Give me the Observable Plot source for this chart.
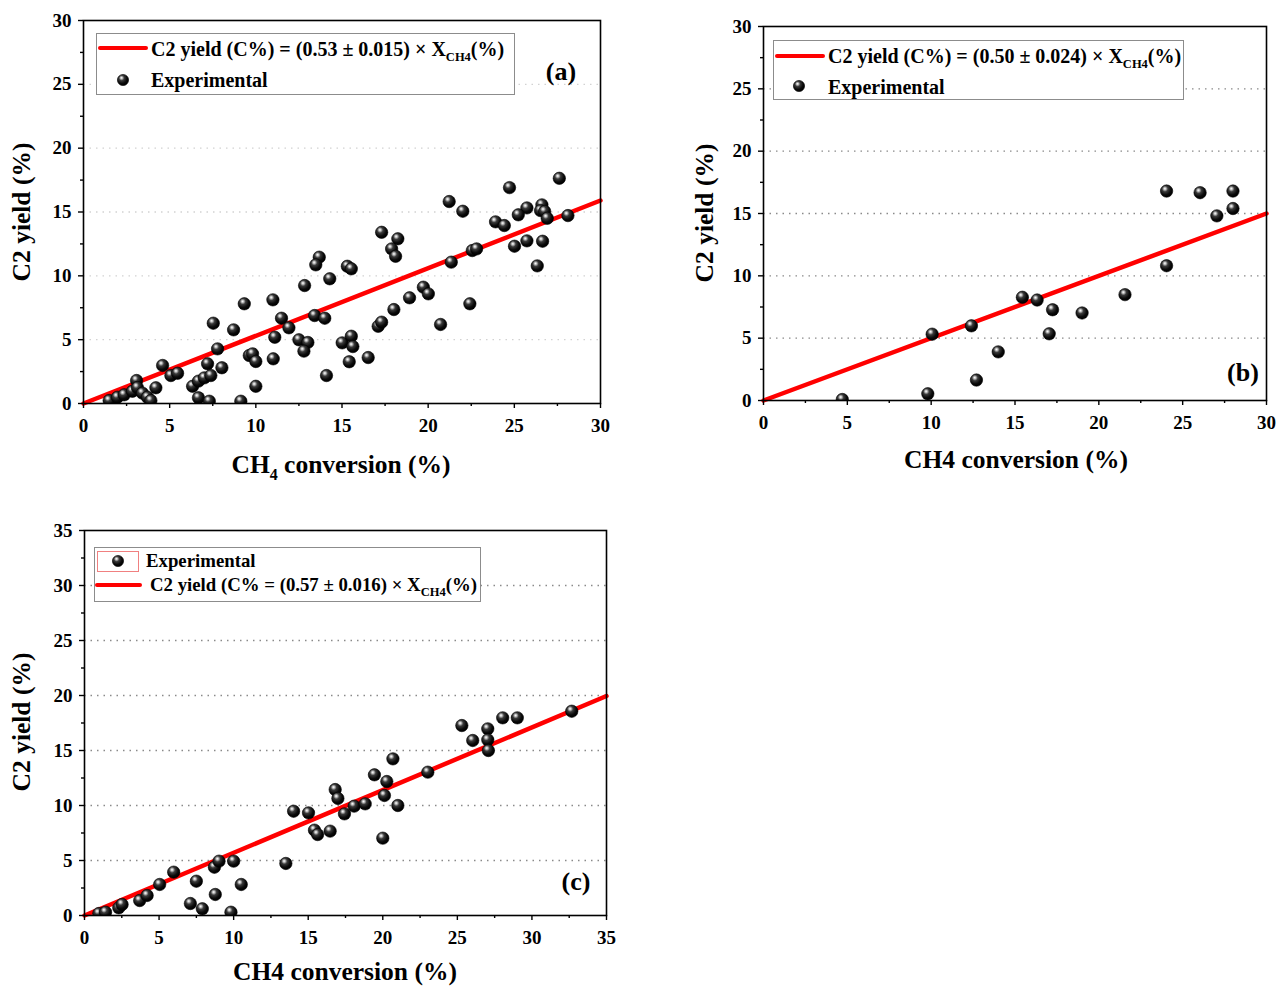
<!DOCTYPE html>
<html>
<head>
<meta charset="utf-8">
<script src="https://cdn.jsdelivr.net/npm/d3@7"></script>
<script src="https://cdn.jsdelivr.net/npm/@observablehq/plot@0.6"></script>
<style>
  body { margin: 0; background: #fff; }
  #root { position: relative; width: 1282px; height: 988px; overflow: hidden;
          font-family: "Liberation Serif", "Times New Roman", serif; font-weight: bold; color: #000; }
  .panel { position: absolute; }
  .legend { position: absolute; background: #fff; border: 1px solid #8c8c8c; box-sizing: border-box; }
  .txt { position: absolute; font-size: 20px; line-height: 24px; height: 24px; white-space: nowrap; }
  .txt.small { font-size: 18.8px; }
  .txt sub { font-size: 12.5px; vertical-align: -5px; line-height: 0; }
  .atitle { position: absolute; font-size: 25.5px; line-height: 28px; white-space: nowrap; transform: translate(-50%, -50%); }
  .atitle sub { font-size: 16px; vertical-align: -7px; line-height: 0; }
  .ytitle { transform: translate(-50%, -50%) rotate(-90deg); }
  .tag { position: absolute; font-size: 26px; transform: translate(-50%, -50%); white-space: nowrap; }
  .swatch { position: absolute; height: 4px; background: #ff0000; border-radius: 2px; }
  .ballkey { position: absolute; }
  .boxkey { position: absolute; border: 1px solid #f08080; box-sizing: border-box; background: #fff; }
</style>
</head>
<body>
<div id="root"></div>
<script>
// Panel (a): C2 yield vs CH4 conversion, slope 0.53
const aConversion = [1.49,1.97,2.36,2.84,3.08,3.13,3.42,3.71,3.91,4.20,4.59,5.07,5.46,6.33,6.67,7.01,7.39,6.67,7.30,7.20,
  7.78,8.03,7.53,8.71,9.33,9.13,9.62,9.81,10.0,10.0,13.68,13.48,14.29,12.83,10.99,11.49,11.92,13.41,14.0,11.10,
  12.50,13.02,12.79,11.01,14.10,27.61,24.72,21.22,22.01,26.60,25.73,25.23,26.52,26.76,26.91,28.11,23.91,24.42,25.01,25.73,
  26.64,26.33,22.56,22.81,17.30,18.24,17.88,18.11,15.31,15.54,21.34,19.72,20.01,18.92,18.01,22.42,17.10,17.30,20.72,15.01,
  15.54,15.63,15.42,16.52];
const aYield = [0.23,0.49,0.68,0.96,1.80,1.25,0.81,0.49,0.23,1.23,2.98,2.19,2.37,1.35,1.75,2.01,2.19,0.45,0.18,3.11,
  4.28,2.80,6.29,5.77,7.81,0.18,3.76,3.89,3.29,1.35,11.46,10.86,9.77,9.24,8.12,6.68,5.93,6.89,6.68,5.19,
  4.99,4.78,4.10,3.50,2.19,17.64,16.91,15.82,15.06,15.56,15.32,14.78,15.11,15.04,14.51,14.72,14.23,13.94,12.32,12.74,
  12.71,10.78,11.98,12.11,13.41,12.90,12.11,11.53,10.75,10.55,11.07,9.11,8.59,8.28,7.36,7.81,6.05,6.37,6.19,4.75,
  5.27,4.46,3.27,3.60];

// Panel (b): slope 0.50
const bConversion = [4.70,9.80,10.06,12.40,12.70,14.0,15.44,16.32,17.24,17.04,19.0,21.56,24.04,24.04,26.04,27.04,28.0,28.0];
const bYield = [0.08,0.54,5.32,5.99,1.64,3.90,8.28,8.06,7.28,5.35,7.02,8.49,10.81,16.80,16.67,14.81,16.80,15.40];

// Panel (c): slope 0.57
const cConversion = [0.96,1.41,2.30,2.52,3.70,4.20,5.04,5.98,7.10,7.50,7.90,8.77,8.71,9.02,10.0,9.82,10.51,13.50,14.02,15.02,
  15.42,15.63,16.47,16.81,16.99,17.43,18.08,18.82,20.0,20.11,20.27,19.44,21.01,20.68,23.02,25.30,26.03,27.04,27.04,27.08,
  28.04,29.02,32.67];
const cYield = [0.18,0.30,0.70,1.00,1.36,1.82,2.82,3.94,1.09,3.12,0.61,1.91,4.39,4.94,4.94,0.30,2.82,4.73,9.48,9.33,
  7.76,7.36,7.67,11.45,10.64,9.24,9.94,10.15,7.03,10.91,12.18,12.79,10.0,14.24,13.03,17.27,15.91,16.97,15.97,15.0,
  17.97,17.97,18.57];

// Fitted slopes (C2 yield = k × X_CH4) and their uncertainties
const fitSlopes = [0.53, 0.50, 0.57];
const fitErrors = ["0.015", "0.024", "0.016"];
const panelTags = ["(a)", "(b)", "(c)"];
const axisMax = [[30, 30], [30, 30], [35, 35]];

const root = document.getElementById("root");

// Shared sphere shading for the experimental points
root.insertAdjacentHTML("beforeend", `
<svg width="0" height="0" style="position:absolute">
  <defs>
    <radialGradient id="ball" cx="0.4" cy="0.35" r="0.62" fx="0.36" fy="0.3">
      <stop offset="0" stop-color="#ffffff"/>
      <stop offset="0.14" stop-color="#c8c8c8"/>
      <stop offset="0.38" stop-color="#3a3a3a"/>
      <stop offset="0.75" stop-color="#0a0a0a"/>
      <stop offset="1" stop-color="#000"/>
    </radialGradient>
  </defs>
</svg>`);

function panel({xs, ys, slope, xmax, ymax, gridColor, left, top, width, height, margin}) {
  const pts = xs.map((x, i) => ({x, y: ys[i]}));
  const fit = [0, xmax].map(x => ({x, y: slope * x}));
  const xMajor = d3.range(0, xmax + 0.01, 5);
  const yMajor = d3.range(0, ymax + 0.01, 5);
  const xMinor = d3.range(2.5, xmax, 5);
  const yMinor = d3.range(2.5, ymax, 5);
  const grid = yMajor.filter(v => v > 0 && v < ymax);
  const chart = Plot.plot({
    width, height,
    marginLeft: margin[3], marginRight: margin[1], marginTop: margin[0], marginBottom: margin[2],
    x: {domain: [0, xmax]},
    y: {domain: [0, ymax]},
    style: {fontFamily: '"Liberation Serif", "Times New Roman", serif', fontWeight: "bold", fontSize: "19px", color: "#000", background: "transparent", overflow: "visible"},
    marks: [
      Plot.ruleY(grid, {stroke: gridColor, strokeWidth: 1.3, strokeDasharray: "1.5,5"}),
      Plot.line(fit, {x: "x", y: "y", stroke: "#ff0000", strokeWidth: 4.5}),
      Plot.dot(pts, {x: "x", y: "y", r: 6.2, fill: "url(#ball)", stroke: "#000", strokeWidth: 0.6, clip: true}),
      Plot.frame({stroke: "#000", strokeWidth: 1.6}),
      Plot.axisX(xMinor, {tickSize: 3, tickFormat: () => "", label: null, strokeWidth: 1.4}),
      Plot.axisY(yMinor, {tickSize: 3, tickFormat: () => "", label: null, strokeWidth: 1.4}),
      Plot.axisX(xMajor, {tickSize: 5, tickPadding: 10, label: null, strokeWidth: 1.4, fontSize: 19}),
      Plot.axisY(yMajor, {tickSize: 5, tickPadding: 7, label: null, strokeWidth: 1.4, fontSize: 19})
    ]
  });
  chart.classList.add("panel");
  chart.style.left = left + "px";
  chart.style.top = top + "px";
  root.appendChild(chart);
}

panel({xs: aConversion, ys: aYield, slope: fitSlopes[0], xmax: axisMax[0][0], ymax: axisMax[0][1],
  gridColor: "#d2d2d2", left: 0, top: 0, width: 620, height: 480, margin: [20, 20, 77, 83]});
panel({xs: bConversion, ys: bYield, slope: fitSlopes[1], xmax: axisMax[1][0], ymax: axisMax[1][1],
  gridColor: "#8a8a8a", left: 680, top: 0, width: 602, height: 480, margin: [26, 16, 80, 83]});
panel({xs: cConversion, ys: cYield, slope: fitSlopes[2], xmax: axisMax[2][0], ymax: axisMax[2][1],
  gridColor: "#8a8a8a", left: 0, top: 500, width: 620, height: 488, margin: [30, 14, 73, 84]});

// Overlay helpers for titles and legends (root coordinates)
function add(html) { root.insertAdjacentHTML("beforeend", html); }
function ball(cx, cy) {
  return `<svg class="ballkey" style="left:${cx - 7}px;top:${cy - 7}px" width="14" height="14">
    <circle cx="7" cy="7" r="5.6" fill="url(#ball)" stroke="#000" stroke-width="0.6"/></svg>`;
}
const eq = i => `C2 yield (C%) = (${fitSlopes[i].toFixed(2)} ± ${fitErrors[i]}) × X<sub>CH4</sub>(%)`;
const eqC = `C2 yield (C% = (${fitSlopes[2].toFixed(2)} ± ${fitErrors[2]}) × X<sub>CH4</sub>(%)`;

// Axis titles
add(`<div class="atitle ytitle" style="left:22px;top:212px">C2 yield (%)</div>`);
add(`<div class="atitle" style="left:341px;top:465px">CH<sub>4</sub> conversion (%)</div>`);
add(`<div class="atitle ytitle" style="left:705px;top:213px">C2 yield (%)</div>`);
add(`<div class="atitle" style="left:1016px;top:460px">CH4 conversion (%)</div>`);
add(`<div class="atitle ytitle" style="left:22px;top:722px">C2 yield (%)</div>`);
add(`<div class="atitle" style="left:345px;top:972px">CH4 conversion (%)</div>`);

// Legend (a)
add(`<div class="legend" style="left:96px;top:33px;width:419px;height:62px"></div>`);
add(`<div class="swatch" style="left:98px;top:46px;width:50px"></div>`);
add(`<div class="txt" style="left:151px;top:37px">${eq(0)}</div>`);
add(ball(123, 80));
add(`<div class="txt" style="left:151px;top:68px">Experimental</div>`);

// Legend (b)
add(`<div class="legend" style="left:773px;top:40px;width:411px;height:60px"></div>`);
add(`<div class="swatch" style="left:775px;top:54px;width:50px"></div>`);
add(`<div class="txt" style="left:828px;top:44px">${eq(1)}</div>`);
add(ball(799, 86));
add(`<div class="txt" style="left:828px;top:75px">Experimental</div>`);

// Legend (c)
add(`<div class="legend" style="left:94px;top:547px;width:387px;height:55px"></div>`);
add(`<div class="boxkey" style="left:97px;top:551px;width:42px;height:21px"></div>`);
add(ball(118, 561));
add(`<div class="txt small" style="left:146px;top:549px">Experimental</div>`);
add(`<div class="swatch" style="left:95px;top:583px;width:47px"></div>`);
add(`<div class="txt small" style="left:150px;top:573px">${eqC}</div>`);

// Panel tags
add(`<div class="tag" style="left:561px;top:72px">${panelTags[0]}</div>`);
add(`<div class="tag" style="left:1243px;top:373px">${panelTags[1]}</div>`);
add(`<div class="tag" style="left:576px;top:882px">${panelTags[2]}</div>`);
</script>
</body>
</html>
